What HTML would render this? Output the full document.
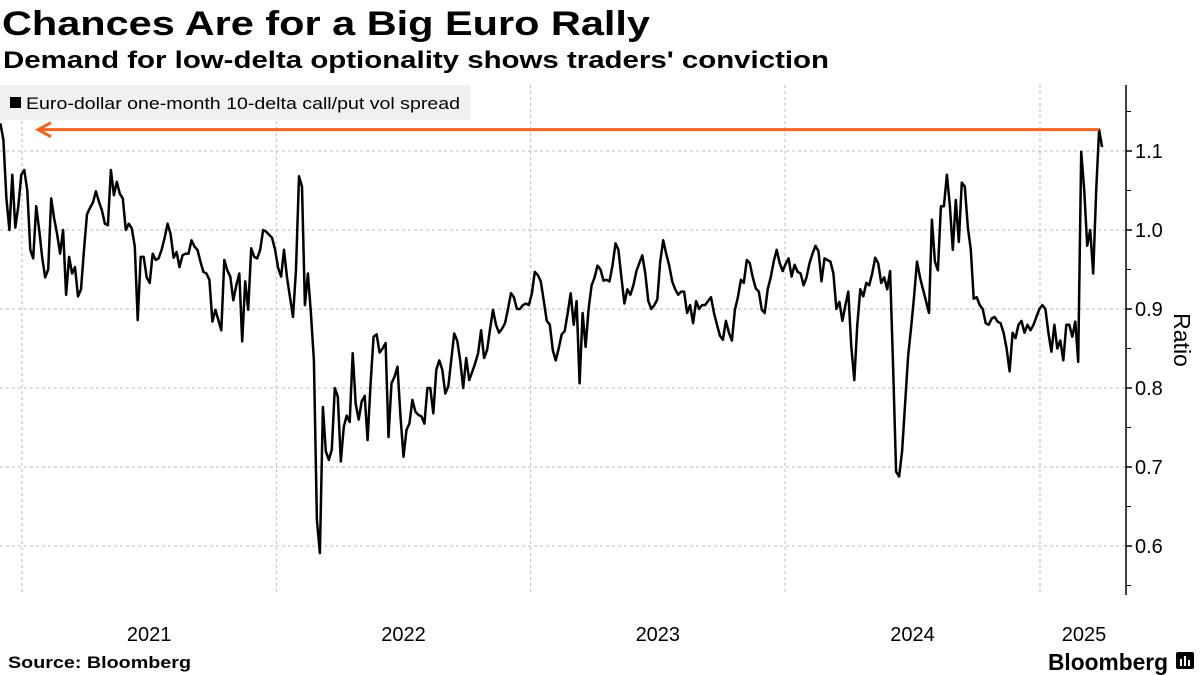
<!DOCTYPE html>
<html><head><meta charset="utf-8"><style>
html,body{margin:0;padding:0;background:#fff;}
svg{display:block;font-family:"Liberation Sans",sans-serif;}
</style></head><body>
<svg id="chart" width="1200" height="675" viewBox="0 0 1200 675" xmlns="http://www.w3.org/2000/svg">
<text x="2" y="35" font-size="34" font-weight="bold" textLength="648" lengthAdjust="spacingAndGlyphs">Chances Are for a Big Euro Rally</text>
<text x="3" y="68" font-size="24" font-weight="bold" textLength="826" lengthAdjust="spacingAndGlyphs">Demand for low-delta optionality shows traders' conviction</text>
<g id="grid"></g>
<g id="axis"></g>
<g id="xaxis"></g>
<rect x="0" y="85" width="470" height="35" fill="#f0f0f0"/>
<g>
<rect x="10" y="97" width="11" height="11" fill="#000"/>
<text x="26" y="109" font-size="17" textLength="434" lengthAdjust="spacingAndGlyphs">Euro-dollar one-month 10-delta call/put vol spread</text>
</g>
<g id="series"></g>
<g id="annot"></g>
<text font-size="23" transform="translate(1174,340) rotate(90)" text-anchor="middle">Ratio</text>
<text x="8" y="668" font-size="17" font-weight="bold" textLength="183" lengthAdjust="spacingAndGlyphs">Source: Bloomberg</text>
<text x="1048" y="670" font-size="23" font-weight="bold" textLength="120" lengthAdjust="spacingAndGlyphs">Bloomberg</text>
<g>
<rect x="1176" y="652" width="18" height="17" rx="2" fill="#000"/>
<rect x="1180" y="659" width="2" height="7" fill="#fff"/><rect x="1184" y="656" width="2" height="10" fill="#fff"/><rect x="1188" y="660" width="2" height="6" fill="#fff"/>
</g>
</svg>
<script>
const startDate = '2020-12-01';
const stepDays = 4.285;
const values = [1.135,1.114,1.04,1.0,1.07,1.003,1.03,1.07,1.076,1.05,0.975,0.964,1.03,1.0,0.965,0.94,0.95,1.04,1.015,0.995,0.97,1.0,0.918,0.966,0.945,0.953,0.916,0.925,0.975,1.02,1.028,1.035,1.049,1.036,1.025,1.008,1.006,1.076,1.044,1.061,1.046,1.04,1.0,1.008,1.002,0.979,0.886,0.966,0.966,0.94,0.933,0.97,0.962,0.964,0.975,0.99,1.008,0.995,0.965,0.972,0.953,0.968,0.97,0.97,0.987,0.979,0.975,0.96,0.947,0.945,0.937,0.884,0.899,0.886,0.873,0.962,0.949,0.941,0.911,0.93,0.945,0.859,0.935,0.899,0.977,0.966,0.964,0.975,1.0,0.998,0.994,0.99,0.975,0.952,0.941,0.975,0.94,0.915,0.89,0.95,1.068,1.055,0.905,0.945,0.895,0.835,0.633,0.591,0.776,0.72,0.709,0.722,0.8,0.789,0.707,0.751,0.765,0.757,0.844,0.78,0.76,0.783,0.79,0.734,0.806,0.865,0.868,0.845,0.85,0.857,0.738,0.806,0.814,0.827,0.764,0.713,0.747,0.755,0.785,0.77,0.766,0.764,0.755,0.8,0.8,0.768,0.823,0.835,0.823,0.793,0.802,0.835,0.869,0.86,0.835,0.8,0.838,0.81,0.82,0.831,0.844,0.873,0.838,0.848,0.875,0.899,0.88,0.87,0.875,0.882,0.9,0.92,0.915,0.9,0.9,0.905,0.907,0.905,0.92,0.947,0.943,0.935,0.91,0.885,0.88,0.848,0.835,0.85,0.868,0.872,0.895,0.92,0.88,0.91,0.806,0.895,0.852,0.9,0.93,0.94,0.955,0.95,0.936,0.937,0.935,0.955,0.983,0.975,0.94,0.907,0.925,0.918,0.93,0.948,0.958,0.968,0.945,0.91,0.9,0.905,0.912,0.96,0.987,0.97,0.955,0.935,0.925,0.918,0.922,0.922,0.895,0.905,0.882,0.91,0.9,0.905,0.905,0.91,0.915,0.895,0.88,0.866,0.861,0.885,0.87,0.86,0.899,0.915,0.937,0.933,0.962,0.958,0.94,0.926,0.922,0.899,0.895,0.925,0.94,0.96,0.975,0.958,0.948,0.957,0.964,0.941,0.956,0.947,0.945,0.93,0.94,0.958,0.97,0.98,0.973,0.935,0.964,0.962,0.96,0.945,0.9,0.909,0.885,0.905,0.922,0.852,0.81,0.88,0.925,0.916,0.933,0.93,0.945,0.965,0.958,0.933,0.94,0.925,0.948,0.827,0.694,0.688,0.72,0.78,0.84,0.875,0.915,0.96,0.94,0.925,0.91,0.895,1.013,0.96,0.949,1.03,1.03,1.07,1.03,0.975,1.038,0.985,1.06,1.055,1.004,0.975,0.913,0.915,0.905,0.9,0.882,0.88,0.888,0.89,0.884,0.882,0.87,0.85,0.821,0.87,0.863,0.88,0.885,0.87,0.88,0.873,0.88,0.89,0.9,0.905,0.9,0.87,0.846,0.88,0.85,0.86,0.835,0.88,0.88,0.865,0.884,0.833,1.099,1.051,0.98,1.0,0.945,1.05,1.127,1.105];
const yTicks = [0.6,0.7,0.8,0.9,1.0,1.1];
const yTickLabels = ['0.6','0.7','0.8','0.9','1.0','1.1'];
const yMinorTicks = [0.55,0.65,0.75,0.85,0.95,1.05,1.15];
const yearTicks = ['2021-01-01','2022-01-01','2023-01-01','2024-01-01','2025-01-01'];
const yearLabels = ['2021','2022','2023','2024','2025'];
const annotationWindow = 10;

const NS = 'http://www.w3.org/2000/svg';
const DAY = 86400000;
const t0 = Date.parse(startDate);
const t1 = Date.parse('2021-01-01');
const pxPerDay = 254.5 / 365.25;
function xScale(ms){ return 22 + (ms - t1) / DAY * pxPerDay; }
function yScale(v){ return 151 + (1.1 - v) * 790; }
const axisX = 1126;
function mk(tag, attrs, parent){ const e = document.createElementNS(NS, tag); for (const k in attrs) e.setAttribute(k, attrs[k]); parent.appendChild(e); return e; }

const grid = document.getElementById('grid');
const axis = document.getElementById('axis');
const xaxis = document.getElementById('xaxis');
yTicks.forEach((v, i) => {
  const y = yScale(v);
  const g = mk('line', {x1:0, x2:axisX, y1:y, y2:y, stroke:'#bbb', 'stroke-width':1, 'stroke-dasharray':'3,3'}, grid);
  
  
  const t = mk('line', {x1:axisX, x2:axisX+6, y1:y, y2:y, stroke:'#000', 'stroke-width':1.5}, axis);
  
  
  const l = mk('text', {x:axisX+9, y:y+7, 'font-size':20}, axis);
  l.textContent = yTickLabels[i];
  
  
});
yMinorTicks.forEach(v => {
  const y = yScale(v);
  const t = mk('line', {x1:axisX, x2:axisX+5, y1:y, y2:y, stroke:'#000', 'stroke-width':1}, axis);
  
  
});
const al = mk('line', {x1:axisX, x2:axisX, y1:85, y2:595, stroke:'#000', 'stroke-width':1.5}, axis);



yearTicks.forEach((d, i) => {
  const x = xScale(Date.parse(d));
  const g = mk('line', {x1:x, x2:x, y1:85, y2:595, stroke:'#bbb', 'stroke-width':1, 'stroke-dasharray':'3,3'}, grid);
  
  
  const next = i < yearTicks.length - 1 ? xScale(Date.parse(yearTicks[i+1])) : axisX + 2;
  const l = mk('text', {x:(x+next)/2, y:641, 'font-size':20, 'text-anchor':'middle'}, xaxis);
  l.textContent = yearLabels[i];
  
  
});

const pts = values.map((v, i) => xScale(t0 + i * stepDays * DAY).toFixed(1) + ',' + yScale(v).toFixed(1));
const line = mk('polyline', {points: pts.join(' '), fill:'none', stroke:'#000', 'stroke-width':2.5, 'stroke-linejoin':'round'}, document.getElementById('series'));



const startI = values.length - annotationWindow;
const recent = values.slice(startI);
const maxV = Math.max(...recent);
const maxI = startI + recent.indexOf(maxV);
const ay = yScale(maxV);
const ax2 = xScale(t0 + maxI * stepDays * DAY);
const annot = document.getElementById('annot');
const ar = mk('line', {x1:38, x2:ax2, y1:ay, y2:ay, stroke:'#f26522', 'stroke-width':3}, annot);


const head = mk('polyline', {points:`51,${ay-7} 38,${ay} 51,${ay+7}`, fill:'none', stroke:'#f26522', 'stroke-width':3}, annot);


</script>
</body></html>
